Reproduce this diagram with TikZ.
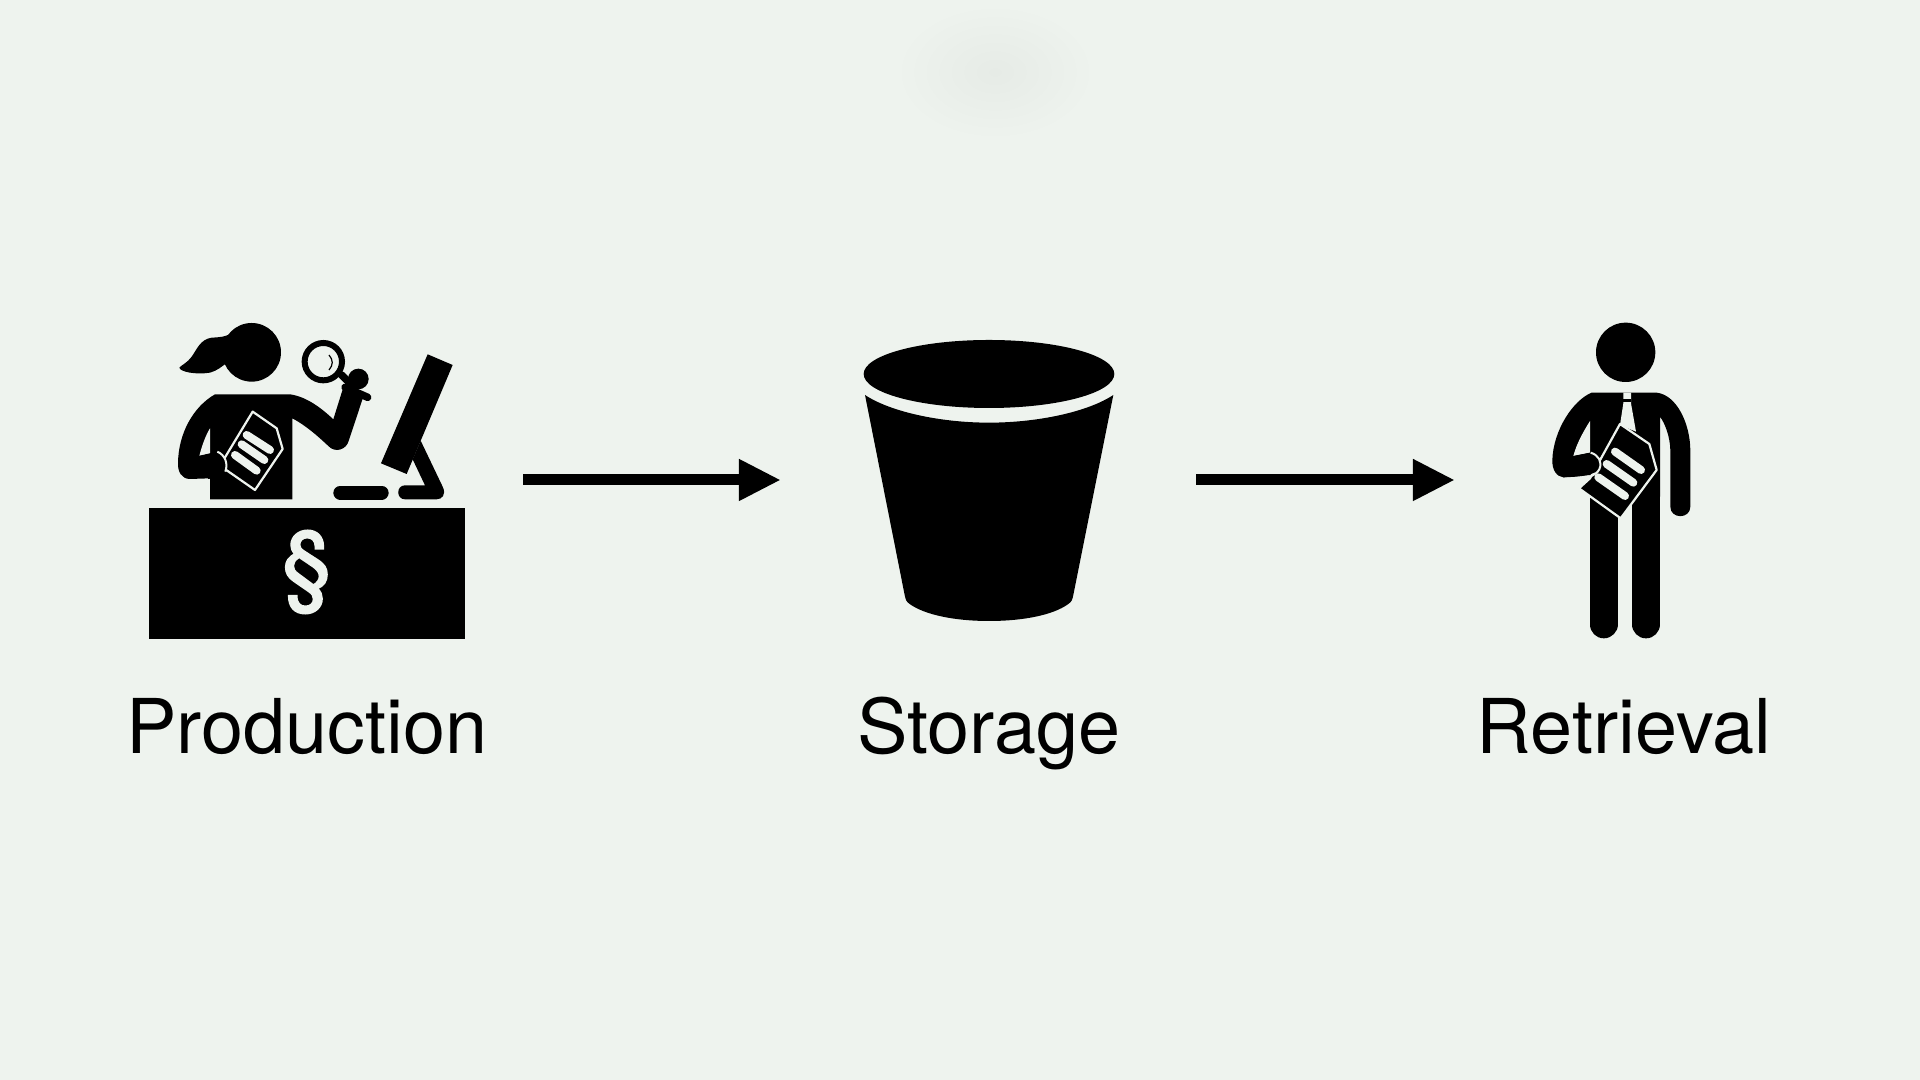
\documentclass[tikz,border=0pt]{standalone}
\usepackage{fontspec}
\setmainfont{TeX Gyre Heros}
\newfontfamily\signfont[FakeBold=2.5]{TeX Gyre Heros}
\usetikzlibrary{arrows.meta, positioning}
\definecolor{paperbg}{HTML}{EEF3EE}
\definecolor{paperdark}{HTML}{E6EBE6}
\tikzset{
  iconbox/.style={minimum height=3.2cm, inner sep=0pt, outer sep=0pt},
  caption/.style={font=\fontsize{21.5}{24}\selectfont, text=black, inner sep=0pt, anchor=base},
  flowarrow/.style={line width=.11cm, -{Triangle[length=.42cm, width=.39cm]}},
  ink/.style={fill=black, draw=none},
  gap/.style={fill=paperbg, draw=none},
  sheet/.style={fill=black, draw=paperbg, line width=.022cm, line join=round},
  textline/.style={draw=paperbg, line width=.08cm, line cap=round},
}
\begin{document}
\begin{tikzpicture}[x=.01cm, y=-.01cm]
\useasboundingbox (0,0) rectangle (1920,1080);
\fill[paperbg] (0,0) rectangle (1920,1080);
% soft mark in the paper
\shade[inner color=paperdark, outer color=paperbg, draw=none] (995,72) ellipse (100 and 68);

% invisible boxes round the three icons, the arrows run between them
\node[iconbox, minimum width=4.32cm] (production) at (307,480) {};
\node[iconbox, minimum width=4.15cm] (storage) at (988.5,480) {};
\node[iconbox, minimum width=3.38cm] (retrieval) at (1624,480) {};

\node[caption] (productionlabel) at (307,754) {Production};
\node[caption] (storagelabel) at (989,754) {Storage};
\node[caption] (retrievallabel) at (1624,754) {Retrieval};

\draw[flowarrow] (production) -- (storage);
\draw[flowarrow] (storage) -- (retrieval);

% woman at the desk
\begin{scope}[shift={(130,300)}, scale=1/3]
  \fill[ink] (365,157) circle (88);
  \fill[ink] (310,95) .. controls (290,112) and (265,112) .. (245,113)
    .. controls (210,118) and (200,150) .. (185,170)
    .. controls (170,190) and (155,195) .. (148,203)
    .. controls (150,215) and (195,225) .. (240,218)
    .. controls (262,212) and (275,200) .. (295,185) -- cycle;
  % body and both arms
  \fill[ink] (255,283) -- (480,283) .. controls (530,290) and (575,325) .. (610,358)
    -- (640,262) -- (700,290) -- (657,420) .. controls (650,450) and (615,460) .. (595,438)
    .. controls (560,405) and (525,375) .. (487,355) -- (487,598) -- (240,598) -- (240,535)
    -- (180,537) .. controls (155,537) and (143,515) .. (144,490)
    .. controls (145,400) and (190,320) .. (255,283) -- cycle;
  \fill[gap] (240,385) .. controls (225,410) and (215,440) .. (208,468) -- (240,461) -- cycle;
  % sheet of paper
  \draw[sheet] (368,335) -- (440,385) -- (458,447) -- (375,570) -- (270,497) -- cycle;
  \draw[textline] (350,405) -- (420,450);
  \draw[textline] (335,433) -- (403,480);
  \draw[textline] (315,465) -- (380,512);
  % hand
  \fill[ink] (205,468) -- (262,455) .. controls (285,465) and (292,490) .. (285,512)
    .. controls (275,530) and (250,535) .. (235,537) -- cycle;
  \draw[draw=paperbg, line width=.02cm] (262,455) .. controls (285,465) and (295,490) .. (286,515);
  % magnifying glass
  \draw[black, line width=.06cm] (580,185) circle (56);
  \draw[black, line width=.012cm] (597,165) .. controls (610,180) and (610,195) .. (597,210);
  \draw[black, line width=.075cm, line cap=round] (635,225) -- (665,255);
  \fill[ink] (685,237) circle (31);
  \draw[black, line width=.075cm, line cap=round] (645,262) -- (713,292);
  % monitor and keyboard
  \fill[ink] (893,163) -- (968,195) -- (830,522) -- (753,490) -- cycle;
  \fill[ink] (872,422) -- (938,560) .. controls (950,585) and (935,598) .. (920,598)
    -- (825,598) .. controls (798,598) and (798,556) .. (825,556) -- (885,556) -- (848,478) -- cycle;
  \draw[black, line width=.14cm, line cap=round] (631,578) -- (755,578);
  % desk with the sign
  \fill[ink] (57,625) rectangle (1004,1017);
  \node[font=\fontsize{25}{28}\selectfont\signfont, text=paperbg, inner sep=0pt] (sign) at (530,816) {§};
\end{scope}

% bucket
\begin{scope}[shift={(840,320)}, scale=1/3]
  \fill[ink] (447,162) ellipse (376 and 102);
  \fill[ink] (75,225) .. controls (150,275) and (300,308) .. (447,308)
    .. controls (595,308) and (745,275) .. (820,225)
    -- (700,825) .. controls (697,840) and (695,845) .. (685,852)
    .. controls (640,885) and (550,903) .. (447,903)
    .. controls (345,903) and (255,885) .. (209,852)
    .. controls (199,845) and (197,840) .. (194,825) -- cycle;
\end{scope}

% man reading
\begin{scope}[shift={(1510,310)}, scale=1/3]
  \fill[ink] (347,127) circle (89);
  % torso and arm on his left side
  \fill[ink] (245,248) -- (440,248) .. controls (500,255) and (540,340) .. (541,420)
    -- (541,590) .. controls (541,628) and (481,628) .. (481,590)
    -- (481,420) .. controls (480,380) and (465,340) .. (450,320)
    -- (450,560) -- (240,560) -- (240,495) -- (160,502)
    .. controls (140,500) and (126,480) .. (127,450)
    .. controls (130,360) and (190,270) .. (245,248) -- cycle;
  \fill[gap] (240,333) .. controls (220,365) and (200,400) .. (190,438) -- (240,428) -- cycle;
  % legs
  \draw[black, line width=.28cm, line cap=round] (281,560) -- (281,943);
  \draw[black, line width=.28cm, line cap=round] (408,560) -- (408,943);
  % shirt and tie
  \fill[gap] (340,248) -- (363,248) -- (363,280) -- (378,365) -- (330,345) -- (340,280) -- cycle;
  \fill[ink] (340,268) rectangle (364,276);
  % sheet of paper
  \draw[sheet] (330,342) -- (418,402) -- (440,480) -- (332,625) -- (207,535) -- (240,505) -- cycle;
  \draw[textline] (315,425) -- (393,480);
  \draw[textline] (290,462) -- (370,518);
  \draw[textline] (265,502) -- (345,558);
  % hand
  \fill[ink] (190,438) -- (240,428) .. controls (262,435) and (275,455) .. (267,475)
    .. controls (255,495) and (220,500) .. (160,502) -- cycle;
  \draw[draw=paperbg, line width=.02cm] (242,428) .. controls (265,435) and (278,455) .. (268,478) .. controls (262,490) and (250,495) .. (240,500);
\end{scope}
\end{tikzpicture}
\end{document}
